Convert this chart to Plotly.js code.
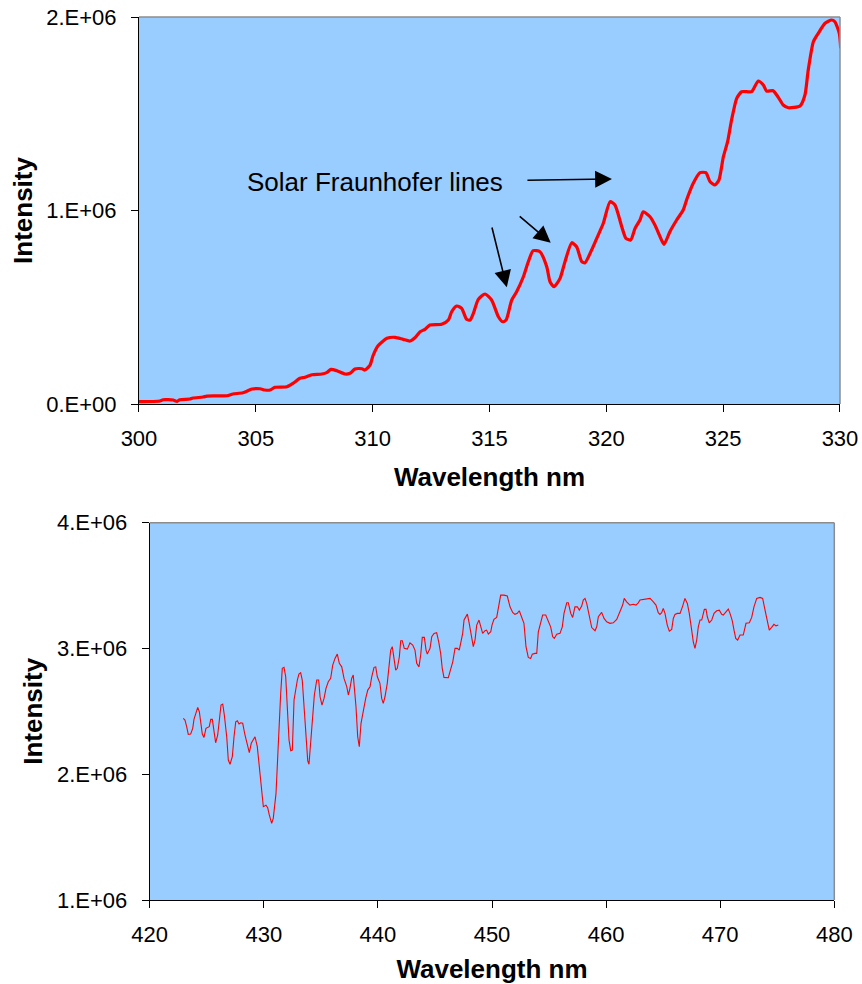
<!DOCTYPE html>
<html>
<head>
<meta charset="utf-8">
<script src="https://cdn.plot.ly/plotly-3.0.1.min.js"></script>
<style>
  html, body { margin: 0; padding: 0; background: #ffffff; }
  #chart { width: 862px; height: 984px; }
</style>
</head>
<body>
<div id="chart"></div>
<script>
// UV spectrum, 300-330 nm
const uvWavelength = [
  300.00,300.90,301.03,301.46,301.63,301.75,302.18,302.31,302.74,302.91,
  303.77,304.02,304.45,304.84,305.18,305.39,305.61,305.82,306.33,306.59,
  306.89,307.10,307.40,307.83,308.05,308.22,308.47,308.82,309.03,309.24,
  309.54,309.67,309.89,310.01,310.23,310.61,310.96,311.30,311.60,311.81,
  312.03,312.24,312.45,312.95,313.24,313.38,313.60,313.81,314.02,314.17,
  314.31,314.52,314.81,315.09,315.38,315.56,315.71,315.95,316.16,316.45,
  316.66,316.87,317.16,317.45,317.59,317.76,318.02,318.23,318.52,318.73,
  318.95,319.09,319.37,319.59,319.87,320.16,320.37,320.66,320.84,
  321.04,321.23,321.44,321.58,321.87,322.08,322.30,322.47,322.72,323.01,
  323.29,323.46,323.72,324.01,324.26,324.44,324.65,324.82,325.01,325.19,
  325.36,325.58,325.79,326.01,326.22,326.50,326.72,326.86,327.14,327.36,
  327.57,327.79,328.29,328.50,328.64,328.86,329.07,329.36,329.64,329.78,
  329.97,330.03
];
const uvIntensity = [
  12000,15500,22200,20700,14000,22200,25800,31000,36200,41300,
  42900,51700,58400,77500,79100,72400,72400,86300,89400,107000,
  132800,138000,151400,155000,163800,179300,172100,155000,158700,180900,
  182400,175700,201600,248100,301300,339500,344700,334400,325600,342600,
  373600,386100,408300,411900,434100,477000,506500,494600,437700,434100,
  468700,541100,568500,537500,451200,425300,434100,537500,580400,657900,
  735400,792300,787100,709600,632000,606200,649600,735400,833600,812900,
  735400,730200,795900,856400,933900,1045500,1028400,916300,856400,
  847600,908000,950900,993800,968000,925100,864600,825300,890500,950900,
  1002600,1063100,1140600,1195400,1195400,1148900,1131800,1157600,1278000,1355600,
  1467700,1579900,1614000,1614000,1614000,1669300,1648600,1617600,1619200,1585000,
  1545200,1531300,1540100,1596900,1726100,1872400,1915800,1967500,1984500,1975700,
  1915800,1838300
];

// Visible spectrum, 423-475 nm
const visWavelength = [
  422.94,423.09,423.24,423.38,423.59,423.77,423.88,424.06,424.21,424.35,
  424.47,424.61,424.76,424.93,425.22,425.35,425.49,425.66,425.78,425.96,
  426.10,426.25,426.40,426.54,426.75,426.89,427.04,427.24,427.39,427.54,
  427.68,427.83,427.98,428.15,428.35,428.55,428.73,428.90,429.23,429.43,
  429.61,429.82,429.96,430.19,430.34,430.48,430.69,430.83,431.07,431.18,
  431.33,431.48,431.62,431.77,431.92,432.06,432.21,432.36,432.50,432.65,
  432.80,432.94,433.08,433.23,433.37,433.52,433.70,433.85,433.96,434.11,
  434.29,434.43,434.64,434.81,434.93,435.10,435.28,435.45,435.65,435.86,
  436.04,436.24,436.44,436.62,436.83,437.03,437.27,437.41,437.55,437.70,
  437.84,437.93,438.08,438.23,438.37,438.52,438.72,438.93,439.11,439.31,
  439.46,439.66,439.81,439.95,440.18,440.33,440.47,440.62,440.82,441.00,
  441.12,441.26,441.41,441.56,441.70,441.88,442.00,442.14,442.31,442.58,
  442.81,443.05,443.25,443.40,443.60,443.75,443.89,444.07,444.22,444.33,
  444.57,444.72,444.92,445.15,445.33,445.50,445.64,445.79,446.17,446.38,
  446.56,446.76,446.96,447.13,447.28,447.43,447.55,447.69,447.84,447.98,
  448.13,448.22,448.36,448.51,448.66,448.86,449.01,449.18,449.39,449.53,
  449.68,449.89,450.00,450.17,450.41,450.55,450.76,451.05,451.34,451.58,
  451.81,452.01,452.22,452.39,452.60,452.80,452.98,453.18,453.39,453.53,
  453.77,453.92,454.06,454.27,454.44,454.71,454.93,455.14,455.32,455.46,
  455.67,455.96,456.16,456.31,456.55,456.69,456.90,457.07,457.27,457.48,
  457.65,457.86,458.00,458.15,458.30,458.53,458.74,459.03,459.18,459.32,
  459.61,459.82,460.05,460.34,460.63,460.93,461.22,461.45,461.59,461.80,
  462.09,462.38,462.62,462.82,462.97,463.26,463.85,464.14,464.37,464.57,
  464.72,464.87,465.01,465.16,465.36,465.54,465.75,465.89,466.04,466.24,
  466.48,466.71,466.91,467.12,467.29,467.50,467.64,467.79,467.94,468.08,
  468.23,468.38,468.47,468.61,468.76,468.87,469.04,469.26,469.46,469.69,
  469.92,470.13,470.27,470.48,470.71,470.86,471.06,471.21,471.36,471.53,
  471.74,472.02,472.26,472.55,472.76,472.96,473.20,473.49,473.72,473.93,
  474.13,474.30,474.51,474.71,474.89,475.09
];
const visIntensity = [
  2.444e6,2.431e6,2.378e6,2.317e6,2.320e6,2.365e6,2.436e6,2.484e6,2.532e6,2.497e6,
  2.417e6,2.320e6,2.293e6,2.365e6,2.378e6,2.436e6,2.436e6,2.338e6,2.250e6,2.312e6,
  2.457e6,2.550e6,2.558e6,2.471e6,2.298e6,2.113e6,2.079e6,2.139e6,2.298e6,2.417e6,
  2.425e6,2.399e6,2.409e6,2.405e6,2.312e6,2.240e6,2.171e6,2.246e6,2.298e6,2.219e6,
  2.060e6,1.848e6,1.742e6,1.753e6,1.734e6,1.676e6,1.610e6,1.649e6,1.848e6,2.060e6,
  2.378e6,2.643e6,2.842e6,2.850e6,2.775e6,2.564e6,2.272e6,2.187e6,2.192e6,2.590e6,
  2.696e6,2.749e6,2.797e6,2.807e6,2.749e6,2.564e6,2.298e6,2.107e6,2.079e6,2.246e6,
  2.405e6,2.630e6,2.749e6,2.749e6,2.616e6,2.550e6,2.603e6,2.683e6,2.735e6,2.762e6,
  2.868e6,2.921e6,2.955e6,2.882e6,2.854e6,2.762e6,2.696e6,2.630e6,2.683e6,2.762e6,
  2.789e6,2.696e6,2.537e6,2.298e6,2.219e6,2.405e6,2.510e6,2.603e6,2.669e6,2.696e6,
  2.775e6,2.850e6,2.854e6,2.775e6,2.723e6,2.603e6,2.564e6,2.616e6,2.723e6,2.854e6,
  2.987e6,3.014e6,2.934e6,2.828e6,2.842e6,2.934e6,3.061e6,3.061e6,3.001e6,2.995e6,
  3.045e6,3.027e6,2.987e6,2.882e6,2.854e6,2.948e6,3.088e6,3.088e6,2.987e6,2.955e6,
  3.001e6,3.093e6,3.120e6,3.125e6,3.053e6,2.961e6,2.842e6,2.770e6,2.767e6,2.828e6,
  2.894e6,3.001e6,3.001e6,2.987e6,3.053e6,3.120e6,3.226e6,3.252e6,3.273e6,3.212e6,
  3.125e6,3.067e6,3.014e6,3.067e6,3.186e6,3.226e6,3.172e6,3.120e6,3.141e6,3.146e6,
  3.114e6,3.133e6,3.186e6,3.231e6,3.247e6,3.331e6,3.424e6,3.424e6,3.417e6,3.331e6,
  3.287e6,3.271e6,3.279e6,3.300e6,3.252e6,3.200e6,3.014e6,2.929e6,2.921e6,2.955e6,
  2.961e6,2.961e6,3.133e6,3.212e6,3.266e6,3.266e6,3.212e6,3.172e6,3.093e6,3.080e6,
  3.114e6,3.120e6,3.172e6,3.279e6,3.363e6,3.363e6,3.279e6,3.247e6,3.331e6,3.331e6,
  3.305e6,3.337e6,3.385e6,3.398e6,3.358e6,3.266e6,3.166e6,3.141e6,3.172e6,3.252e6,
  3.287e6,3.239e6,3.212e6,3.200e6,3.204e6,3.231e6,3.292e6,3.345e6,3.398e6,3.371e6,
  3.345e6,3.351e6,3.345e6,3.363e6,3.385e6,3.390e6,3.398e6,3.371e6,3.345e6,3.284e6,
  3.271e6,3.284e6,3.319e6,3.279e6,3.186e6,3.138e6,3.152e6,3.239e6,3.271e6,3.279e6,
  3.279e6,3.337e6,3.398e6,3.358e6,3.279e6,3.146e6,3.053e6,3.001e6,3.067e6,3.172e6,
  3.226e6,3.226e6,3.266e6,3.311e6,3.311e6,3.252e6,3.204e6,3.226e6,3.279e6,3.300e6,
  3.305e6,3.271e6,3.266e6,3.292e6,3.313e6,3.279e6,3.220e6,3.146e6,3.080e6,3.067e6,
  3.107e6,3.107e6,3.200e6,3.204e6,3.247e6,3.331e6,3.398e6,3.406e6,3.398e6,3.305e6,
  3.226e6,3.146e6,3.168e6,3.192e6,3.180e6,3.186e6
];

// Axis ticks
const uvTickVals = [300, 305, 310, 315, 320, 325, 330];
const visTickVals = [420, 430, 440, 450, 460, 470, 480];
const uvYTickVals = [0, 1e6, 2e6];
const uvYTickText = ['0.E+00', '1.E+06', '2.E+06'];
const visYTickVals = [1e6, 2e6, 3e6, 4e6];
const visYTickText = ['1.E+06', '2.E+06', '3.E+06', '4.E+06'];

// Annotation: label and the three arrows pointing at absorption dips
const labelText = 'Solar Fraunhofer lines';
const labelPos = [310.10, 1147000];
const arrowTips = [[320.24, 1163000], [317.62, 833600], [315.74, 603100]];
const arrowTails = [[316.56, 1156000], [316.23, 976800], [315.09, 919900]];

const FONT = 'Liberation Sans, Arial, Helvetica, sans-serif';

const traces = [
  {
    x: uvWavelength, y: uvIntensity, xaxis: 'x', yaxis: 'y',
    type: 'scatter', mode: 'lines',
    line: { color: '#ff0000', width: 3.2, shape: 'spline', smoothing: 0.6 },
    hoverinfo: 'x+y', showlegend: false
  },
  {
    x: visWavelength, y: visIntensity, xaxis: 'x2', yaxis: 'y2',
    type: 'scatter', mode: 'lines',
    line: { color: '#ff0000', width: 1.1 },
    hoverinfo: 'x+y', showlegend: false
  }
];

function xAxis(domain, range, tickvals, anchor, standoff) {
  return {
    domain: domain, range: range, anchor: anchor,
    tickmode: 'array', tickvals: tickvals,
    ticks: 'outside', ticklen: 7, tickwidth: 1, tickcolor: '#000',
    showline: true, linecolor: '#000', linewidth: 1,
    showgrid: false, zeroline: false, fixedrange: true,
    ticklabelstandoff: 8,
    tickfont: { family: FONT, size: 22, color: '#000' },
    title: { text: 'Wavelength nm', standoff: standoff,
             font: { family: FONT, size: 26, color: '#000', weight: 700 } }
  };
}
function yAxis(domain, range, tickvals, ticktext, anchor) {
  return {
    domain: domain, range: range, anchor: anchor,
    tickmode: 'array', tickvals: tickvals, ticktext: ticktext,
    ticks: 'outside', ticklen: 7, tickwidth: 1, tickcolor: '#000',
    showline: true, linecolor: '#000', linewidth: 1,
    showgrid: false, zeroline: false, fixedrange: true,
    ticklabelstandoff: 10,
    tickfont: { family: FONT, size: 22, color: '#000' },
    title: { text: 'Intensity', standoff: 6,
             font: { family: FONT, size: 26, color: '#000', weight: 700 } }
  };
}

// Gray top and right frame edges of each plot area
function frame(xr, yr) {
  const s = { type: 'line', xref: xr + ' domain', yref: yr + ' domain',
              line: { color: '#8c8c8c', width: 1.5 }, layer: 'above' };
  return [
    Object.assign({}, s, { x0: 0, x1: 1, y0: 1, y1: 1 }),
    Object.assign({}, s, { x0: 1, x1: 1, y0: 0, y1: 1 })
  ];
}

const annotations = [{
  x: labelPos[0], y: labelPos[1], xref: 'x', yref: 'y',
  text: labelText, showarrow: false,
  font: { family: FONT, size: 26, color: '#000' }
}];
arrowTips.forEach(function (tip, i) {
  annotations.push({
    x: tip[0], y: tip[1], xref: 'x', yref: 'y',
    ax: arrowTails[i][0], ay: arrowTails[i][1], axref: 'x', ayref: 'y',
    text: '', showarrow: true, arrowhead: 2, arrowsize: 2.1,
    arrowwidth: 1.6, arrowcolor: '#000', standoff: 0, startstandoff: 0
  });
});

const layout = {
  width: 862, height: 984,
  margin: { l: 0, r: 0, t: 0, b: 0 },
  paper_bgcolor: '#ffffff',
  plot_bgcolor: '#99ccff',
  font: { family: FONT, color: '#000' },
  showlegend: false,
  xaxis: xAxis([0.16125, 0.97448], [300, 330], uvTickVals, 'y', 17),
  yaxis: yAxis([0.5894, 0.9827], [0, 2e6], uvYTickVals, uvYTickText, 'x'),
  xaxis2: xAxis([0.17367, 0.96787], [420, 480], visTickVals, 'y2', 14),
  yaxis2: yAxis([0.08537, 0.4688], [1e6, 4e6], visYTickVals, visYTickText, 'x2'),
  shapes: frame('x', 'y').concat(frame('x2', 'y2')),
  annotations: annotations
};

Plotly.newPlot('chart', traces, layout, { staticPlot: true, displayModeBar: false });
</script>
</body>
</html>
